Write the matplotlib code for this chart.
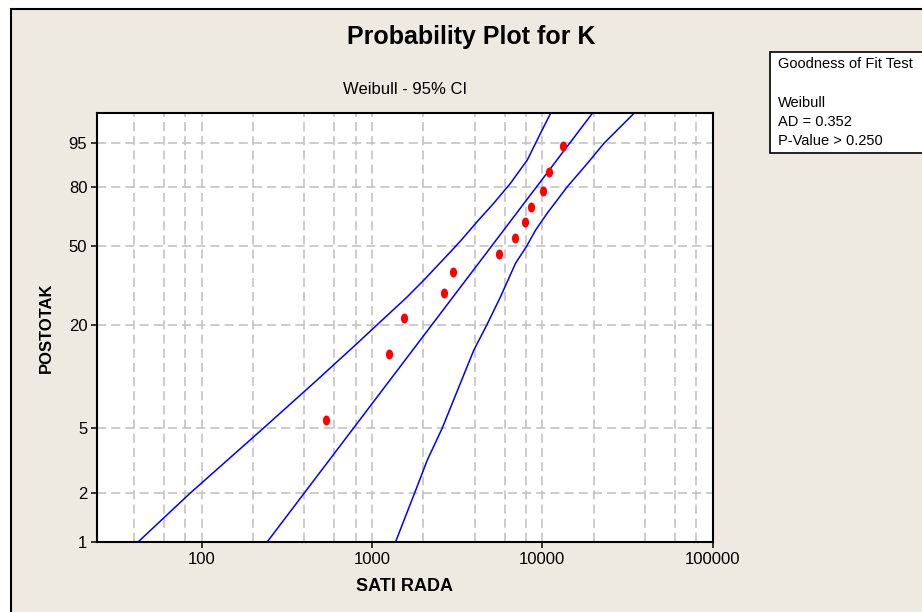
import numpy as np
import matplotlib
matplotlib.use("Agg")
import matplotlib.pyplot as plt
from matplotlib.patches import Rectangle
from matplotlib.path import Path
from matplotlib.transforms import Affine2D
from matplotlib.ticker import FixedLocator, NullFormatter

plt.rcParams['font.family'] = ['Liberation Sans', 'DejaVu Sans']

# data (hours vs. percent on a Weibull probability scale)
hours = [539, 1265, 1535, 2637, 3006, 5558, 6904, 7870, 8616, 10040, 10900, 13300]
pct = [5.6, 13.7, 21.8, 29.8, 37.9, 46.0, 54.0, 62.1, 70.2, 78.2, 86.3, 94.4]

# fitted Weibull line (straight on this scale)
fit_pct = [1, 99]
fit_hours = [241, 19680]

# 95% confidence bands
lo_pct = [1, 2, 5, 9.7, 15.8, 18.8, 28.4, 34.6, 47.9, 53.0, 62.5, 72.1, 81.7, 90.6, 96.9, 99]
lo_hours = [42, 85, 230, 475, 816, 991, 1606, 2012, 2950, 3350, 4147, 5192, 6510, 8166, 9775, 11190]
hi_pct = [1, 2, 3.2, 5, 9.3, 14.5, 19.9, 28.5, 41.8, 49.6, 58.1, 66.9, 80.1, 89.5, 95.0, 99]
hi_hours = [1371, 1774, 2110, 2582, 3304, 3963, 4699, 5686, 6966, 8060, 9141, 10690, 14030, 18410,
            23010, 34580]

yticks = [1, 2, 5, 20, 50, 80, 95]
xticks = [100, 1000, 10000, 100000]
xtick_labels = ["100", "1000", "10000", "100000"]


def weibull_fwd(p):
    p = np.asarray(p, dtype=float)
    with np.errstate(all='ignore'):
        return np.log(-np.log(1 - p / 100.0))


def weibull_inv(w):
    w = np.asarray(w, dtype=float)
    return 100.0 * (1 - np.exp(-np.exp(w)))


W, H = 922, 612
bg = '#EEEAE1'
fig = plt.figure(figsize=(W / 100, H / 100), dpi=100, facecolor='white')

# outer graph frame (cropped screenshot: only top and left edges visible)
fig.add_artist(Rectangle((10.5 / W, -0.1), 1.2, (H - 9) / H + 0.1, transform=fig.transFigure,
                         facecolor=bg, edgecolor='black', linewidth=1.5, zorder=0))

ax = fig.add_axes([97 / W, 1 - 542.3 / H, (712.5 - 97) / W, (542.3 - 113.3) / H])
ax.set_facecolor('white')
ax.set_xscale('log')
ax.set_yscale('function', functions=(weibull_fwd, weibull_inv))
ax.set_xlim(24.2, 100000)
ax.set_ylim(1, 99)

ax.plot(fit_hours, fit_pct, color='#0000FF', lw=1.1)
ax.plot(lo_hours, lo_pct, color='#0000FF', lw=1.1)
ax.plot(hi_hours, hi_pct, color='#0000FF', lw=1.1)

dot = Path.unit_circle().transformed(Affine2D().scale(0.72, 1.0))
ax.plot(hours, pct, linestyle='none', marker=dot, markersize=7.2,
        markerfacecolor='#FF0000', markeredgewidth=0, zorder=5)

# ticks and grid
ax.xaxis.set_major_locator(FixedLocator(xticks))
ax.set_xticklabels(xtick_labels)
ax.xaxis.set_minor_locator(FixedLocator([m * 10 ** k for k in range(1, 5) for m in (2, 4, 6, 8)]))
ax.xaxis.set_minor_formatter(NullFormatter())
ax.yaxis.set_major_locator(FixedLocator(yticks))
ax.set_yticklabels([str(v) for v in yticks])
ax.yaxis.set_minor_locator(FixedLocator([]))

ax.tick_params(axis='both', which='major', direction='out', length=4.5, width=1.1,
               labelsize=12, pad=2.5, colors='black')
ax.tick_params(axis='x', which='minor', length=0)
ax.grid(True, which='both', axis='x', color='#C4C4C4', lw=1.2, linestyle=(0, (5.5, 3)))
ax.grid(True, which='major', axis='y', color='#C4C4C4', lw=1.2, linestyle=(0, (5.5, 3)))
ax.set_axisbelow(True)
for s in ax.spines.values():
    s.set_linewidth(1.5)
    s.set_color('black')

ax.set_xlabel('SATI RADA', fontsize=13, fontweight='bold', va='center')
ax.xaxis.set_label_coords(0.5, -0.104)
ax.set_ylabel('POSTOTAK', fontsize=12, fontweight='bold', va='center')
ax.yaxis.set_label_coords(-0.083, 0.5)

ax.text(0.5, 1 + 24 / 429, 'Weibull - 95% CI', transform=ax.transAxes,
        ha='center', va='center', fontsize=12)
fig.text(471 / W, 1 - 37 / H, 'Probability Plot for K', ha='center', va='center',
         fontsize=18, fontweight='bold')

# goodness of fit box
fig.add_artist(Rectangle((770 / W, 1 - 152.7 / H), 0.5, 101 / H, transform=fig.transFigure,
                         facecolor='white', edgecolor='black', linewidth=1.2))
box_lines = [('Goodness of Fit Test', 64), ('Weibull', 103), ('AD = 0.352', 122.5),
             ('P-Value > 0.250', 141)]
for txt, yy in box_lines:
    fig.text(778 / W, 1 - yy / H, txt, ha='left', va='center', fontsize=10.5)

fig.savefig('out.png', dpi=100, facecolor=fig.get_facecolor())
